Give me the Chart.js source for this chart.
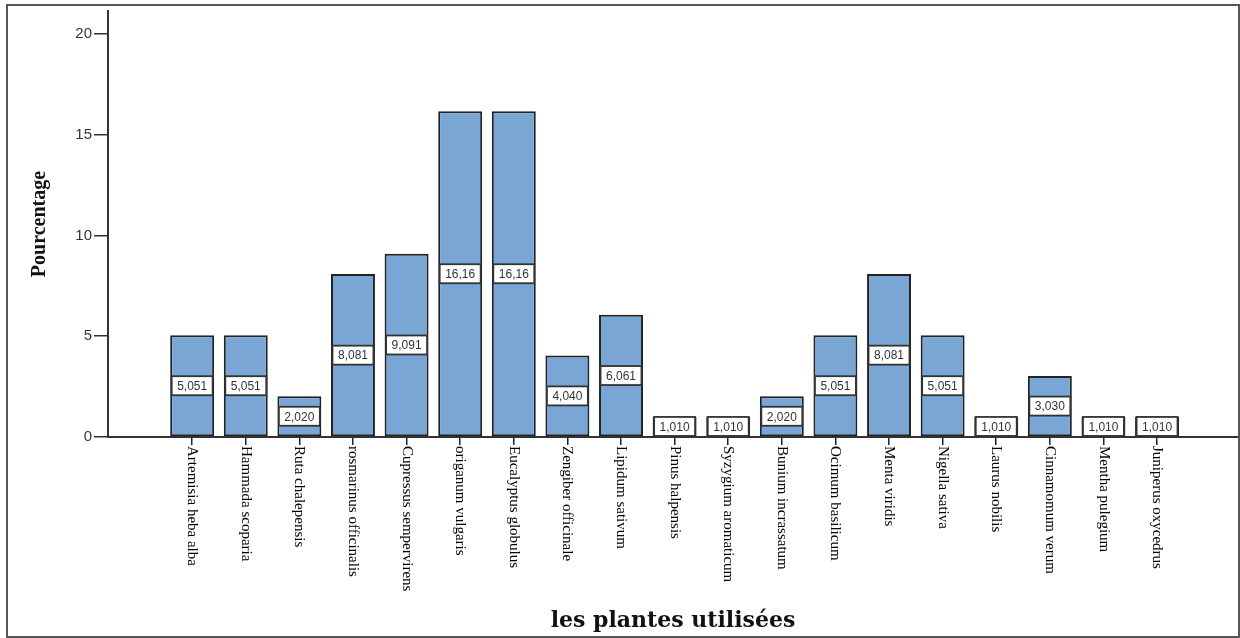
<!DOCTYPE html>
<html>
<head>
<meta charset="utf-8">
<script src="https://cdn.jsdelivr.net/npm/chart.js@4.4.0/dist/chart.umd.min.js"></script>
<style>
	html, body { margin: 0; padding: 0; background: #fff; }
	canvas { display: block; }
</style>
</head>
<body>
<canvas id="plantes-chart" width="1240" height="638"></canvas>
<script>
// donnees
var plantes = [
	'Artemisia heba alba', 'Hammada scoparia', 'Ruta chalepensis', 'rosmarinus officinalis',
	'Cupressus sempervirens', 'origanum vulgaris', 'Eucalyptus globulus', 'Zengiber officinale',
	'Lipidum sativum', 'Pinus halpensis', 'Syzygium aromaticum', 'Bunium incrassatum',
	'Ocimum basilicum', 'Menta viridis', 'Nigella sativa', 'Laurus nobilis',
	'Cinnamomum verum', 'Mentha pulegium', 'Juniperus oxycedrus'
];
var pourcentages = [
	5.051, 5.051, 2.020, 8.081, 9.091, 16.16, 16.16, 4.040, 6.061, 1.010,
	1.010, 2.020, 5.051, 8.081, 5.051, 1.010, 3.030, 1.010, 1.010
];
var yTicks = [0, 5, 10, 15, 20];

var page_plantes = {
	initialize: function(){
		this.init_chart('plantes-chart');
	},
	// cadre exterieur
	frame_plugin: {
		id: 'frame',
		afterDraw: function(chart){
			var ctx = chart.ctx;
			ctx.save();
			ctx.strokeStyle = '#555';
			ctx.lineWidth = 2;
			ctx.strokeRect(7, 5, 1232, 632);
			ctx.restore();
		}
	},
	// etiquettes des categories, ecrites de haut en bas
	xlabels_plugin: {
		id: 'xlabels',
		afterDraw: function(chart){
			var ctx = chart.ctx;
			var xs = chart.scales.x;
			var y0 = chart.chartArea.bottom + 9;
			ctx.save();
			ctx.fillStyle = '#000';
			ctx.font = '15px "Liberation Serif", serif';
			ctx.textAlign = 'left';
			ctx.textBaseline = 'middle';
			for (var i = 0; i < plantes.length; i++) {
				ctx.save();
				ctx.translate(xs.getPixelForValue(i), y0);
				ctx.rotate(Math.PI / 2);
				ctx.fillText(plantes[i], 0, 0);
				ctx.restore();
			}
			ctx.restore();
		}
	},
	// valeurs dans les barres
	values_plugin: {
		id: 'values',
		afterDatasetsDraw: function(chart){
			var ctx = chart.ctx;
			var meta = chart.getDatasetMeta(0);
			ctx.save();
			ctx.font = '12px "Liberation Sans", Arial, sans-serif';
			ctx.textAlign = 'center';
			ctx.textBaseline = 'middle';
			for (var i = 0; i < meta.data.length; i++) {
				var bar = meta.data[i];
				var w = bar.width - 3;
				var h = 19;
				var cy = (bar.y + bar.base) / 2;
				if (cy + h / 2 > bar.base) cy = bar.base - h / 2;
				ctx.fillStyle = '#fff';
				ctx.fillRect(bar.x - w / 2, cy - h / 2, w, h);
				ctx.strokeStyle = '#333';
				ctx.lineWidth = 1.8;
				ctx.strokeRect(bar.x - w / 2, cy - h / 2, w, h);
				ctx.fillStyle = '#333';
				ctx.fillText(pourcentages[i].toPrecision(4).replace('.', ','), bar.x, cy + 1);
			}
			ctx.restore();
		}
	},
	init_chart: function(selectorIDName){
		var config = {
			type: 'bar',
			data: {
				datasets: [{
					data: pourcentages.map(function(v, i){ return {x: i, y: v}; }),
					backgroundColor: 'rgb(121,166,212)',
					borderColor: '#222',
					borderWidth: 2,
					borderSkipped: false,
					barPercentage: 0.82,
					categoryPercentage: 1.0
				}]
			},
			options: {
				responsive: false,
				animation: false,
				layout: { padding: { top: 5, right: 2, left: 0, bottom: 0 } },
				plugins: {
					legend: { display: false },
					tooltip: { enabled: false }
				},
				scales: {
					x: {
						type: 'linear',
						offset: false,
						min: -1.57,
						max: 19.51,
						afterBuildTicks: function(scale){
							scale.ticks = plantes.map(function(p, i){ return {value: i}; });
						},
						afterFit: function(scale){ scale.height = 201; },
						ticks: { display: false },
						grid: { offset: false, drawOnChartArea: false, drawTicks: true, tickLength: 8, color: '#222', lineWidth: 1.5 },
						border: { color: '#333', width: 2 },
						title: {
							display: true,
							text: 'les plantes utilisées',
							color: '#111',
							font: { family: '"DejaVu Serif", serif', size: 22, weight: 'bold' },
							padding: { top: 0, bottom: 4 }
						}
					},
					y: {
						min: 0,
						max: 21.13,
						afterBuildTicks: function(scale){
							scale.ticks = yTicks.map(function(v){ return {value: v}; });
						},
						afterFit: function(scale){ scale.width = 108; },
						ticks: {
							color: '#333',
							padding: 2,
							font: { family: '"Liberation Sans", Arial, sans-serif', size: 15 }
						},
						grid: { drawOnChartArea: false, drawTicks: true, tickLength: 14, color: '#333', lineWidth: 1.5 },
						border: { color: '#333', width: 2 },
						title: {
							display: true,
							text: 'Pourcentage',
							color: '#111',
							font: { family: '"Liberation Serif", serif', size: 20, weight: 'bold' },
							padding: { top: 28, bottom: 0 }
						}
					}
				}
			},
			plugins: [this.values_plugin, this.xlabels_plugin, this.frame_plugin]
		};

		var ctx = document.getElementById(selectorIDName).getContext('2d');
		var myBars = new Chart(ctx, config);
	}
};

page_plantes.initialize();
</script>
</body>
</html>
